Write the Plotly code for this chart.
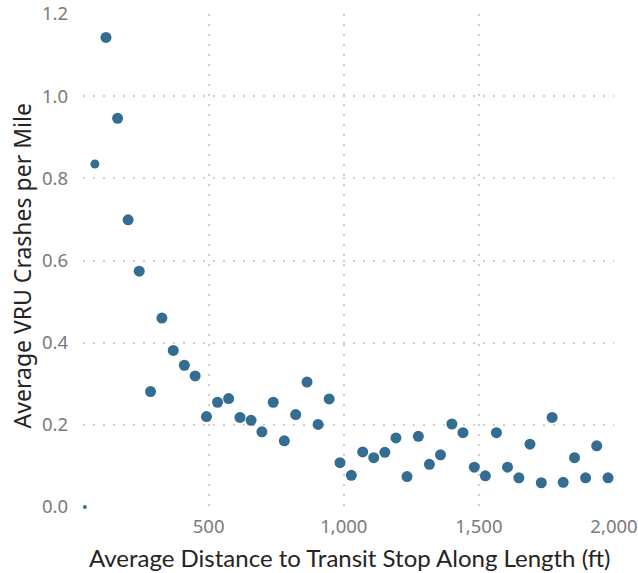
import plotly.graph_objects as go

# ---- data ----
distance_ft = [42, 79, 120, 163, 202, 243, 285, 327, 369, 410,
               450, 492, 533, 574, 616, 657, 697, 739, 780, 822,
               864, 905, 946, 986, 1028, 1070, 1111, 1152, 1193, 1234,
               1276, 1317, 1358, 1400, 1441, 1483, 1524, 1565, 1606, 1648,
               1689, 1731, 1771, 1812, 1854, 1895, 1936, 1978]
crashes_per_mile = [0.0, 0.835, 1.143, 0.946, 0.699, 0.574, 0.281, 0.460, 0.381, 0.345,
                    0.319, 0.220, 0.255, 0.264, 0.218, 0.211, 0.183, 0.255, 0.161, 0.225,
                    0.304, 0.201, 0.263, 0.108, 0.077, 0.134, 0.120, 0.133, 0.168, 0.074,
                    0.172, 0.104, 0.127, 0.202, 0.181, 0.097, 0.076, 0.181, 0.097, 0.071,
                    0.153, 0.059, 0.218, 0.060, 0.120, 0.071, 0.149, 0.071]
x_tick_vals = [500, 1000, 1500, 2000]
x_tick_text = ["500", "1,000", "1,500", "2,000"]
y_tick_vals = [0.0, 0.2, 0.4, 0.6, 0.8, 1.0, 1.2]
y_tick_text = ["0.0", "0.2", "0.4", "0.6", "0.8", "1.0", "1.2"]
x_title = "Average Distance to Transit Stop Along Length (ft)"
y_title = "Average VRU Crashes per Mile"

# ---- styling ----
marker_sizes = [4, 9] + [11] * (len(distance_ft) - 2)
MARKER_COLOR = "#336e92"
TICK_FONT = dict(family="Noto Sans, Open Sans, sans-serif", size=18.5, color="#7a7a7a")
GRID = dict(showgrid=True, gridcolor="#cfcfcf", gridwidth=1.6, griddash="2px,8px",
            zeroline=False, showline=False, ticks="", automargin=False, tickfont=TICK_FONT)

fig = go.Figure(go.Scatter(
    x=distance_ft, y=crashes_per_mile, mode="markers",
    marker=dict(size=marker_sizes, color=MARKER_COLOR, opacity=1, line=dict(width=0)),
    cliponaxis=False, hoverinfo="x+y",
))

fig.update_layout(
    width=638, height=573,
    margin=dict(l=83, r=24, t=14, b=66),
    paper_bgcolor="white", plot_bgcolor="white",
    showlegend=False,
    xaxis=dict(range=[35, 2000], tickvals=x_tick_vals, ticktext=x_tick_text,
               ticklabelstandoff=6, **GRID),
    yaxis=dict(range=[0, 1.2], tickvals=y_tick_vals, ticktext=y_tick_text,
               ticklabelstandoff=14, **GRID),
    annotations=[
        dict(text=x_title, xref="paper", yref="paper", x=0.502, y=-0.1034,
             xanchor="center", yanchor="middle", showarrow=False,
             font=dict(family="Lato, sans-serif", size=24, color="#252423")),
        dict(text=y_title, xref="paper", yref="paper", x=-0.1149, y=0.49,
             xanchor="center", yanchor="middle", textangle=-90, showarrow=False,
             font=dict(family="Noto Sans, Open Sans, sans-serif", size=23, color="#252423")),
    ],
)

fig.write_html("out.html",
               config={"displayModeBar": False},
               post_script="document.body.style.margin='0';document.body.style.overflow='hidden';")
